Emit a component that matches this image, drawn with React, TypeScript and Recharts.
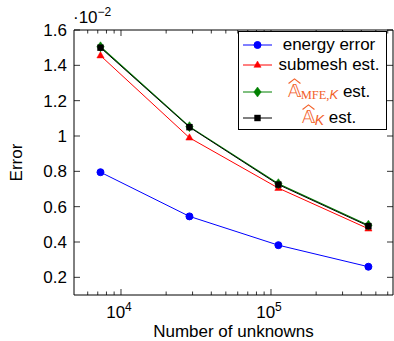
import { LineChart, Line, XAxis, YAxis, ReferenceArea, Legend } from "recharts";

const unknowns = [7300, 28600, 112000, 446000];
const energyError = [0.795, 0.545, 0.382, 0.26];
const submeshEst = [1.455, 0.99, 0.705, 0.475];
const mfeEst = [1.505, 1.053, 0.73, 0.495];
const akEst = [1.5, 1.05, 0.725, 0.49];

const xTicks = [
  6000, 7000, 8000, 9000, 10000, 20000, 30000, 40000, 50000, 60000, 70000, 80000, 90000,
  100000, 200000, 300000, 400000, 500000, 600000,
];
const xMajor = [10000, 100000];
const yTicks = [0.2, 0.4, 0.6, 0.8, 1, 1.2, 1.4, 1.6];

const X_DOMAIN: [number, number] = [4861, 650600];
const Y_DOMAIN: [number, number] = [0.1, 1.6];

const data = unknowns.map((n, i) => ({
  n,
  energy: energyError[i],
  submesh: submeshEst[i],
  mfe: mfeEst[i],
  ak: akEst[i],
}));

const BLUE = "#0000ff";
const RED = "#ff0000";
const GREEN = "#008000";
const ORANGE = "#f2612a";
const FONT = "'Liberation Sans', Arial, sans-serif";

// plot frame (px)
const PL = 74;
const PR = 393;
const PT = 30;
const PB = 295;

function marker(kind: string, cx: number, cy: number, key?: number) {
  if (kind === "circle") return <circle key={key} cx={cx} cy={cy} r={3.5} fill={BLUE} stroke={BLUE} />;
  if (kind === "triangle")
    return (
      <polygon key={key} points={`${cx},${cy - 4} ${cx - 3.6},${cy + 2.3} ${cx + 3.6},${cy + 2.3}`} fill={RED} stroke={RED} strokeWidth={0.5} />
    );
  if (kind === "diamond")
    return (
      <polygon key={key} points={`${cx},${cy - 5} ${cx + 3.7},${cy} ${cx},${cy + 5} ${cx - 3.7},${cy}`} fill={GREEN} stroke={GREEN} strokeWidth={0.5} />
    );
  return <rect key={key} x={cx - 3.2} y={cy - 3.2} width={6.4} height={6.4} fill="#000" />;
}

const dotOf = (kind: string) => (p: any) => marker(kind, p.cx, p.cy, p.index);

function XTick(props: any) {
  const { x, payload } = props;
  const v = payload.value;
  const major = xMajor.includes(v);
  const len = major ? 6 : 3.5;
  return (
    <g>
      <line x1={x} x2={x} y1={PB} y2={PB - len} stroke="#000" strokeWidth={0.8} />
      <line x1={x} x2={x} y1={PT} y2={PT + len} stroke="#000" strokeWidth={0.8} />
      {major && (
        <text x={x - 2} y={318} textAnchor="middle" fontSize={17} fontFamily={FONT} fill="#000">
          10
          <tspan dy={-7} fontSize={12}>
            {Math.round(Math.log10(v))}
          </tspan>
        </text>
      )}
    </g>
  );
}

function YTick(props: any) {
  const { y, payload } = props;
  const v = payload.value;
  const label = v === 1 ? "1" : v.toFixed(1);
  return (
    <g>
      <line x1={PL} x2={PL + 6} y1={y} y2={y} stroke="#000" strokeWidth={0.8} />
      <line x1={PR - 6} x2={PR} y1={y} y2={y} stroke="#000" strokeWidth={0.8} />
      <text x={67} y={y} dy="0.36em" textAnchor="end" fontSize={17} fontFamily={FONT} fill="#000">
        {label}
      </text>
    </g>
  );
}

const renderYLabel = () => (
  <g>
    <text
      x={16}
      y={162.5}
      transform="rotate(-90,16,162.5)"
      textAnchor="middle"
      dy="0.36em"
      fontSize={17}
      fontFamily={FONT}
      fill="#000"
    >
      Error
    </text>
    <text x={73} y={23} fontSize={17} fontFamily={FONT} fill="#000">
      ·10
      <tspan dy={-7} fontSize={12}>
        −2
      </tspan>
    </text>
  </g>
);

const renderXLabel = () => (
  <text x={233.5} y={337} textAnchor="middle" fontSize={17} fontFamily={FONT} fill="#000">
    Number of unknowns
  </text>
);

function Hat({ children }: { children: React.ReactNode }) {
  return (
    <span style={{ position: "relative", display: "inline-block", color: ORANGE, fontSize: 18, lineHeight: "18px" }}>
      {children}
      <svg
        viewBox="0 0 12 6"
        preserveAspectRatio="none"
        style={{ position: "absolute", left: 0, top: -4, width: "100%", height: 6 }}
      >
        <polyline points="0.5,5.5 6,0.8 11.5,5.5" fill="none" stroke={ORANGE} strokeWidth={1} />
      </svg>
    </span>
  );
}

const subStyle = { color: ORANGE, position: "relative" as const, top: 2 };

const rows = [
  { kind: "circle", color: BLUE, center: 13, label: <span>energy error</span> },
  { kind: "triangle", color: RED, center: 33, label: <span>submesh est.</span> },
  {
    kind: "diamond",
    color: GREEN,
    center: 60,
    label: (
      <span>
        <Hat>𝔸</Hat>
        <span style={subStyle}>
          <span style={{ fontFamily: "'Liberation Serif', serif", fontSize: 12.5 }}>MFE,</span>
          <i style={{ fontSize: 13 }}>K</i>
        </span>{" "}
        est.
      </span>
    ),
  },
  {
    kind: "square",
    color: "#000",
    center: 86,
    label: (
      <span>
        <Hat>𝔸</Hat>
        <span style={subStyle}>
          <i style={{ fontSize: 14 }}>K</i>
        </span>{" "}
        est.
      </span>
    ),
  },
];

function LegendBox() {
  return (
    <div
      style={{
        position: "relative",
        width: 149,
        height: 99,
        border: "1px solid #000",
        boxSizing: "border-box",
        background: "#fff",
        fontFamily: FONT,
        fontSize: 17,
        color: "#000",
      }}
    >
      {rows.map((r) => (
        <div key={r.kind} style={{ position: "absolute", left: 0, top: r.center - 11, width: 147, height: 22 }}>
          <svg width={36} height={22} style={{ position: "absolute", left: 0, top: 0 }}>
            <line x1={4} x2={33} y1={11} y2={11} stroke={r.color} strokeWidth={1} />
            {marker(r.kind, 18.5, 11)}
          </svg>
          <div
            style={{
              position: "absolute",
              left: 35,
              width: 110,
              top: 0,
              height: 22,
              lineHeight: "22px",
              textAlign: "center",
              whiteSpace: "nowrap",
            }}
          >
            {r.label}
          </div>
        </div>
      ))}
    </div>
  );
}

export default function App() {
  return (
    <div style={{ position: "absolute", left: 0, top: 0, width: 394, height: 341, background: "#fff" }}>
      <LineChart width={394} height={341} data={data} margin={{ top: PT, right: 394 - PR, left: 0, bottom: 0 }}>
        <XAxis
          dataKey="n"
          type="number"
          scale="log"
          domain={X_DOMAIN}
          allowDataOverflow
          ticks={xTicks}
          interval={0}
          tick={<XTick />}
          tickLine={false}
          axisLine={false}
          tickSize={0}
          tickMargin={0}
          height={341 - PB}
          label={renderXLabel}
        />
        <YAxis
          type="number"
          domain={Y_DOMAIN}
          allowDataOverflow
          ticks={yTicks}
          interval={0}
          tick={<YTick />}
          tickLine={false}
          axisLine={false}
          tickSize={0}
          tickMargin={0}
          width={PL}
          label={renderYLabel}
        />
        <ReferenceArea
          x1={X_DOMAIN[0]}
          x2={X_DOMAIN[1]}
          y1={Y_DOMAIN[0]}
          y2={Y_DOMAIN[1]}
          fill="none"
          stroke="#000"
          strokeWidth={1}
          ifOverflow="visible"
        />
        <Line dataKey="energy" stroke={BLUE} strokeWidth={1} dot={dotOf("circle")} activeDot={false} isAnimationActive={false} />
        <Line dataKey="submesh" stroke={RED} strokeWidth={1} dot={dotOf("triangle")} activeDot={false} isAnimationActive={false} />
        <Line dataKey="mfe" stroke={GREEN} strokeWidth={1.2} dot={dotOf("diamond")} activeDot={false} isAnimationActive={false} />
        <Line dataKey="ak" stroke="#000" strokeWidth={1} dot={dotOf("square")} activeDot={false} isAnimationActive={false} />
        <Legend
          layout="vertical"
          align="center"
          verticalAlign="middle"
          content={() => <LegendBox />}
          wrapperStyle={{ position: "absolute", top: 31, left: 238, width: 149, height: 99 }}
        />
      </LineChart>
    </div>
  );
}
